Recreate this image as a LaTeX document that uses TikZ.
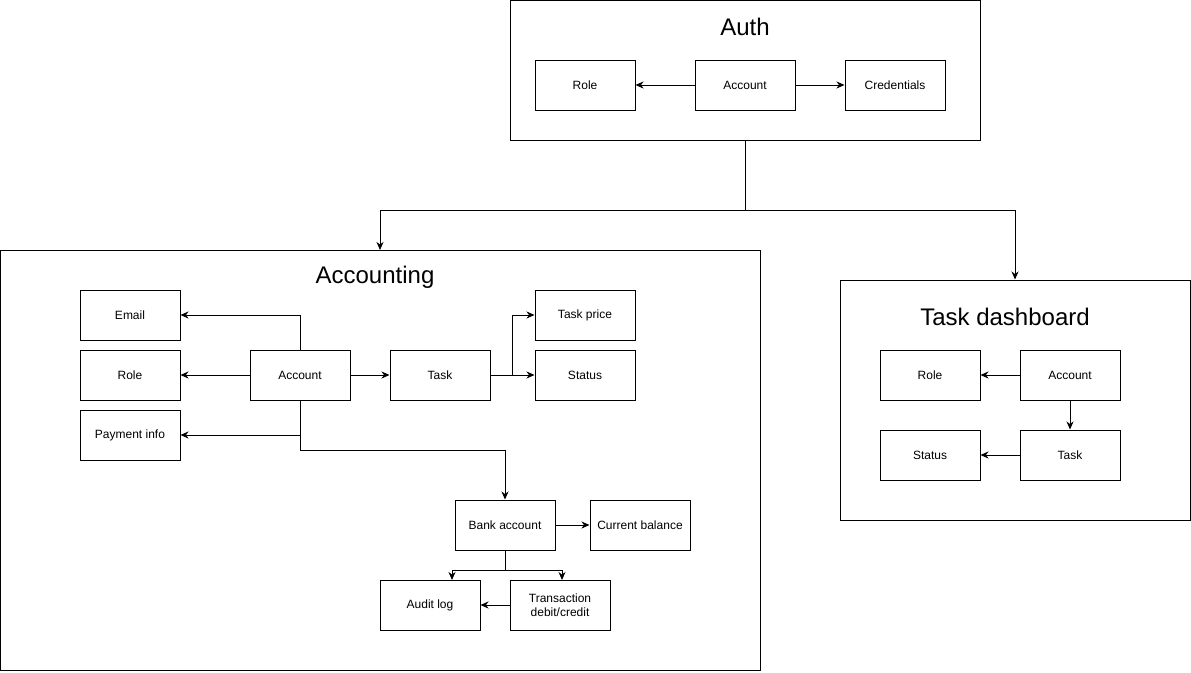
\documentclass[tikz,border=0pt]{standalone}
\usepackage{fontspec}
\setmainfont{Liberation Sans}
\usetikzlibrary{arrows.meta}
\begin{document}
\begin{tikzpicture}[x=1pt,y=-1pt,
  box/.style={draw,line width=1pt,minimum width=100pt,minimum height=50pt,inner sep=0pt,font=\fontsize{12}{14}\selectfont,align=center},
  container/.style={draw,line width=1pt,inner sep=0pt},
  title/.style={font=\fontsize{24}{28}\selectfont,inner sep=0pt},
  conn/.style={line width=1pt,-{Stealth[length=8pt,width=7pt,inset=2.5pt]}},
  plain/.style={line width=1pt}]
\useasboundingbox (0,0) rectangle (1191,672);
% containers
\node[container,minimum width=470pt,minimum height=140pt] (auth) at (745,70) {};
\node[title] (authT) at (745,27) {Auth};
\node[container,minimum width=760pt,minimum height=420pt] (acc) at (380,460) {};
\node[title] (accT) at (375,277) {Accounting};
\node[container,minimum width=350pt,minimum height=240pt] (td) at (1015,400) {};
\node[title] (tdT) at (1005,317) {Task dashboard};
% Auth
\node[box] (aRole) at (585,85) {Role};
\node[box] (aAcc) at (745,85) {Account};
\node[box] (aCred) at (895,85) {Credentials};
\draw[conn] (aAcc) -- (aRole);
\draw[conn] (aAcc) -- (aCred);
% Accounting
\node[box] (email) at (130,315) {Email};
\node[box] (cRole) at (130,375) {Role};
\node[box] (pay) at (130,435) {Payment info};
\node[box] (cAcc) at (300,375) {Account};
\node[box] (cTask) at (440,375) {Task};
\node[box] (price) at (585,315) {Task price};
\node[box] (cStat) at (585,375) {Status};
\node[box] (bank) at (505,525) {Bank account};
\node[box] (bal) at (640,525) {Current balance};
\node[box] (audit) at (430,605) {Audit log};
\node[box] (trans) at (560,605) {Transaction\\debit/credit};
\coordinate (j1) at (505,570);
\draw[conn] (cAcc.north) |- (email.east);
\draw[conn] (cAcc) -- (cRole);
\draw[conn] (cAcc.south) |- (pay.east);
\draw[conn] (cAcc.south) -- (300,450) -| (bank.north);
\draw[conn] (cAcc) -- (cTask);
\draw[conn] (cTask) -- (cStat);
\draw[conn] (512,375) |- (price.west);
\draw[conn] (bank) -- (bal);
\draw[plain] (bank.south) -- (j1);
\draw[conn] (j1) -| (452,580);
\draw[conn] (j1) -| (562,580);
\draw[conn] (trans) -- (audit);
% Task dashboard
\node[box] (dRole) at (930,375) {Role};
\node[box] (dAcc) at (1070,375) {Account};
\node[box] (dStat) at (930,455) {Status};
\node[box] (dTask) at (1070,455) {Task};
\draw[conn] (dAcc) -- (dRole);
\draw[conn] (dAcc) -- (dTask);
\draw[conn] (dTask) -- (dStat);
% top level
\coordinate (split) at (745,210);
\draw[plain] (auth.south) -- (split);
\draw[conn] (split) -| (380,250);
\draw[conn] (split) -| (td.north);
\end{tikzpicture}
\end{document}
